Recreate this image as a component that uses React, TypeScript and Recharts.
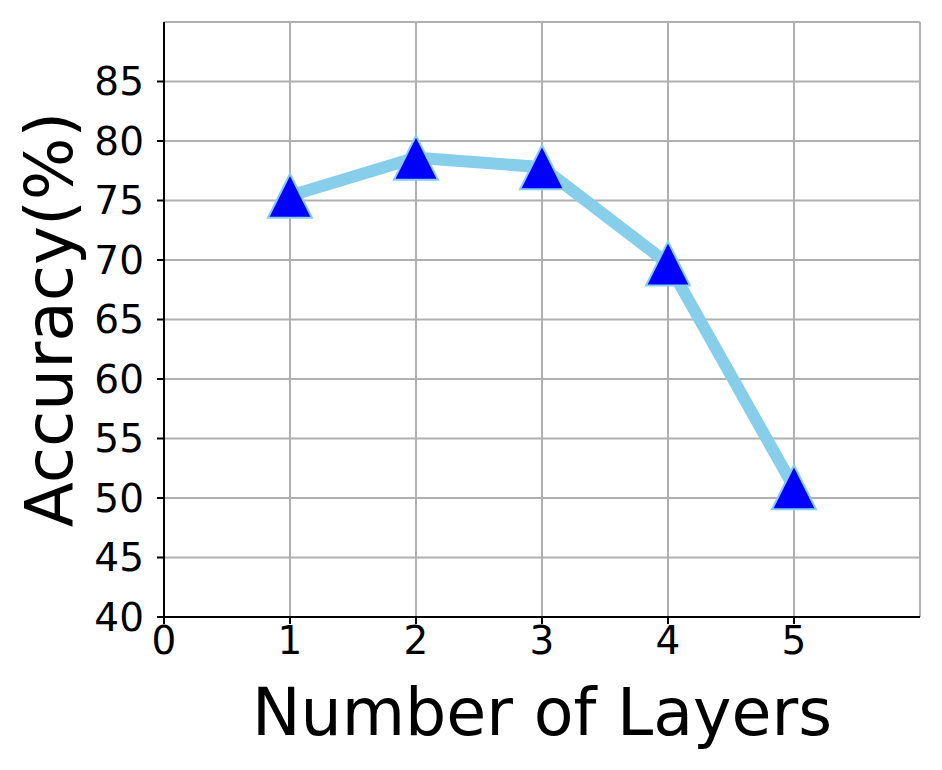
import { LineChart, Line, XAxis, YAxis, CartesianGrid } from "recharts";

const layers = [1, 2, 3, 4, 5];
const accuracy = [75.4, 78.6, 77.8, 69.7, 50.9];
const xTicks = [0, 1, 2, 3, 4, 5];
const yTicks = [40, 45, 50, 55, 60, 65, 70, 75, 80, 85];

const data = layers.map((layer, i) => ({ layer, acc: accuracy[i] }));

const font = "'DejaVu Sans', sans-serif";
const tickStyle = { fontSize: 39, fill: "#000", fontFamily: font };
const axisStroke = { stroke: "#000", strokeWidth: 2 };

// matplotlib-ish "^" marker
const Triangle = (props: any) => {
  const { cx, cy } = props;
  if (cx == null || cy == null) return null;
  const s = 22;
  return (
    <polygon
      points={`${cx},${cy - s} ${cx - s},${cy + s} ${cx + s},${cy + s}`}
      fill="#0000ff"
      stroke="#87CEEB"
      strokeWidth={2}
    />
  );
};

const YLabel = (props: any) => {
  const { viewBox } = props;
  const x = viewBox.x + 72;
  const y = viewBox.y + viewBox.height / 2;
  return (
    <text
      x={x}
      y={y}
      transform={`rotate(-90, ${x}, ${y})`}
      textAnchor="middle"
      fontSize={66}
      fontFamily={font}
      fill="#000"
    >
      Accuracy(%)
    </text>
  );
};

const XLabel = (props: any) => {
  const { viewBox } = props;
  return (
    <text
      x={viewBox.x + viewBox.width / 2}
      y={viewBox.y + 118}
      textAnchor="middle"
      fontSize={65}
      fontFamily={font}
      fill="#000"
    >
      Number of Layers
    </text>
  );
};

export default function App() {
  return (
    <div style={{ position: "absolute", left: 0, top: 0, background: "#fff" }}>
      <LineChart
        width={942}
        height={770}
        data={data}
        margin={{ top: 22, right: 22, left: 0, bottom: 0 }}
      >
        <CartesianGrid stroke="#b0b0b0" strokeWidth={2} />
        <XAxis
          dataKey="layer"
          type="number"
          domain={[0, 6]}
          ticks={xTicks}
          height={153}
          tick={tickStyle}
          tickSize={7}
          tickMargin={2}
          axisLine={axisStroke}
          tickLine={axisStroke}
          label={<XLabel />}
        />
        <XAxis
          xAxisId="top"
          orientation="top"
          dataKey="layer"
          type="number"
          domain={[0, 6]}
          height={0}
          tick={false}
          tickLine={false}
          axisLine={axisStroke}
        />
        <YAxis
          type="number"
          domain={[40, 90]}
          ticks={yTicks}
          width={164}
          tick={tickStyle}
          tickSize={7}
          tickMargin={13}
          axisLine={axisStroke}
          tickLine={axisStroke}
          label={<YLabel />}
        />
        <YAxis
          yAxisId="right"
          orientation="right"
          type="number"
          domain={[40, 90]}
          width={0}
          tick={false}
          tickLine={false}
          axisLine={axisStroke}
        />
        <Line
          dataKey="acc"
          type="linear"
          stroke="#87CEEB"
          strokeWidth={12}
          dot={<Triangle />}
          activeDot={false}
          isAnimationActive={false}
        />
      </LineChart>
    </div>
  );
}
